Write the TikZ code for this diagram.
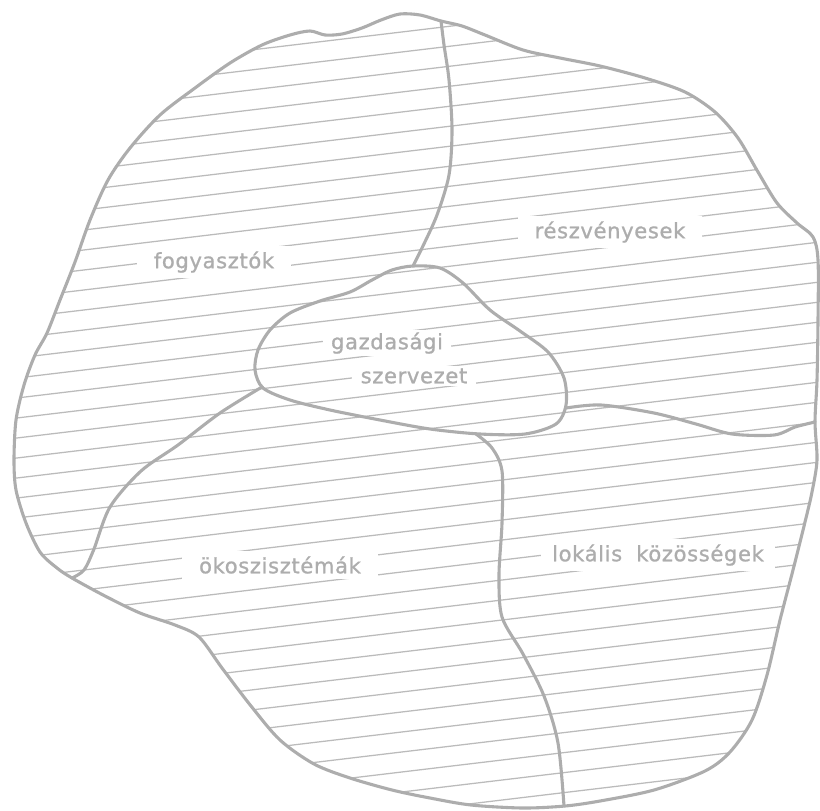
\documentclass[tikz,border=0pt]{standalone}
\usepackage{fontspec}
\usepackage{xcolor}
\usepackage{tikz}
\newfontfamily\regionfont[LetterSpace=3,FakeBold=1]{DejaVu Sans}
\definecolor{MapLine}{HTML}{ADADAD}
\definecolor{MapHatch}{HTML}{BBBBBB}
\definecolor{MapText}{HTML}{ADADAD}

\begin{document}
\begin{tikzpicture}[x=0.025cm,y=-0.025cm,
  border/.style={MapLine,line width=2.2pt,line join=round,line cap=round},
  hatch/.style={MapHatch,line width=0.9pt},
  region/.style={fill=white,text=MapText,inner xsep=12pt,inner ysep=4pt,
    font=\regionfont\fontsize{15}{18}\selectfont}]
\path[use as bounding box] (0,0) rectangle (820,810);
\def\outerline{plot[smooth cycle,tension=0.5] coordinates {(441,21) (462,26) (485,35) (523,50) (560,58) (600,66) (645,78) (685,92) (715,112) (738,138) (758,172) (777,203) (797,223) (813,237) (818,260) (818,320) (817,380) (815,422) (817,460) (812,492) (805,522) (793,570) (780,620) (767,675) (752,720) (730,752) (705,771) (654,790) (600,801) (565,806) (523,808) (471,805) (430,798) (392,790) (350,778) (314,764) (280,740) (251,706) (222,668) (199,637) (175,625) (140,613) (105,596) (72,578) (57,568) (40,552) (26,523) (16,490) (14,460) (16,420) (24,385) (35,355) (47,333) (60,300) (75,262) (90,220) (108,180) (130,148) (160,115) (195,88) (230,63) (262,45) (290,35) (310,31) (325,35) (342,34) (362,28) (381,20) (400,14) (420,15)}}
\begin{scope}
\clip \outerline;
\foreach \b in {0,20,...,940}
  \draw[hatch] (0,\b) -- (820,\b-98);
\end{scope}
\node[region] (fogyasztok) at (214,262) {fogyasztók};
\node[region] (reszvenyesek) at (610,232) {részvényesek};
\node[region,inner xsep=6pt,inner ysep=2pt] (gazdasagi) at (387,343) {gazdasági};
\node[region,inner xsep=6pt,inner ysep=2pt] (szervezet) at (414,376) {szervezet};
\node[region] (okosziszt) at (280,565) {ökoszisztémák};
\node[region,inner xsep=8pt] (lokalis) at (658,555) {lokális\hspace{10pt}közösségek};
\draw[border] \outerline;
\draw[border] plot[smooth,tension=0.5] coordinates {(441,21) (444,45) (449,80) (452,130) (449,175) (437,215) (422,248) (413,266)};
\draw[border] plot[smooth cycle,tension=0.5] coordinates {(413,266) (440,268) (463,283) (490,310) (520,331) (548,352) (564,378) (566,405) (556,424) (525,434) (480,434) (430,429) (380,420) (330,410) (290,400) (263,388) (255,370) (258,350) (270,330) (290,313) (320,301) (350,292) (372,280) (392,270)};
\draw[border] plot[smooth,tension=0.5] coordinates {(566,408) (601,405) (654,413) (696,424) (732,434) (774,435) (795,427) (815,422)};
\draw[border] plot[smooth,tension=0.5] coordinates {(476,434) (492,448) (502,471) (502,523) (499,575) (502,617) (523,654) (544,696) (558,743) (564,806)};
\draw[border] plot[smooth,tension=0.5] coordinates {(262,387) (220,413) (178,445) (141,471) (110,507) (94,549) (84,570) (72,578)};
\end{tikzpicture}
\end{document}
